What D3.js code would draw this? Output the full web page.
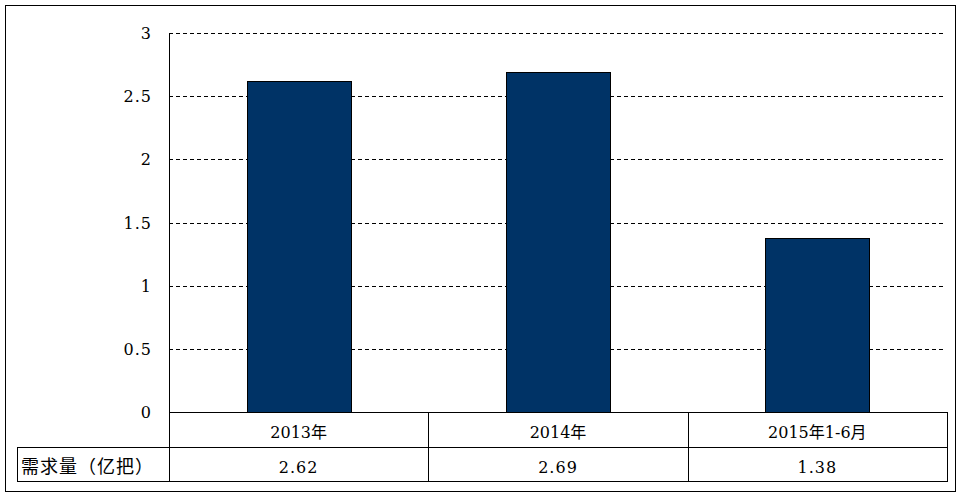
<!DOCTYPE html>
<html>
<head>
<meta charset="utf-8">
<script src="https://cdn.jsdelivr.net/npm/d3@7"></script>
<style>
  body { margin: 0; background: #fff; }
  svg text { font-family: "DejaVu Serif", "Noto Sans CJK SC", serif; font-size: 16px; }
</style>
</head>
<body>
<svg id="chart" width="964" height="498"></svg>
<script>
// data
var categories = ["2013年", "2014年", "2015年1-6月"];
var values = [2.62, 2.69, 1.38];
var valueLabels = ["2.62", "2.69", "1.38"];
var seriesName = "需求量（亿把）";
var yTicks = [0, 0.5, 1, 1.5, 2, 2.5, 3];
var yTickLabels = ["0", "0.5", "1", "1.5", "2", "2.5", "3"];

var svg = d3.select("#chart");
var plotLeft = 169, plotRight = 947, plotTop = 33, plotBottom = 412;
var rowH = 35, labelLeft = 17;

// outer frame
svg.append("rect")
    .attr("x", 5.5).attr("y", 5.5)
    .attr("width", 950).attr("height", 486)
    .attr("fill", "none").attr("stroke", "#000").attr("stroke-width", 1);

var x = d3.scaleBand()
    .domain(categories)
    .range([plotLeft, plotRight])
    .paddingInner(0)
    .paddingOuter(0);

var y = d3.scaleLinear()
    .domain([0, 3])
    .range([plotBottom, plotTop]);

// dashed grid lines
svg.append("g").selectAll("line")
    .data(yTicks.filter(function(d) { return d > 0; }))
    .enter().append("line")
    .attr("x1", plotLeft).attr("x2", plotRight - 1)
    .attr("y1", function(d) { return Math.round(y(d)) + 0.5; })
    .attr("y2", function(d) { return Math.round(y(d)) + 0.5; })
    .attr("stroke", "#000")
    .attr("stroke-dasharray", "4,3");

// bars
var barW = x.bandwidth() * 0.4;
svg.append("g").selectAll("rect")
    .data(values)
    .enter().append("rect")
    .attr("x", function(d, i) { return Math.round(x(categories[i]) + (x.bandwidth() - barW) / 2) + 0.5; })
    .attr("width", Math.round(barW))
    .attr("y", function(d) { return Math.round(y(d)) + 0.5; })
    .attr("height", function(d) { return Math.round(plotBottom - y(d)); })
    .attr("fill", "#003366")
    .attr("stroke", "#000")
    .attr("stroke-width", 1);

// y tick labels
svg.append("g").selectAll("text")
    .data(yTicks)
    .enter().append("text")
    .attr("x", 152)
    .attr("y", function(d) { return y(d) + 6; })
    .attr("text-anchor", "end")
    .attr("fill", "#000")
    .style("letter-spacing", "1px")
    .text(function(d, i) { return yTickLabels[i]; });

// y axis line, running down through the first table row
svg.append("line")
    .attr("x1", plotLeft + 0.5).attr("x2", plotLeft + 0.5)
    .attr("y1", plotTop).attr("y2", plotBottom + rowH * 2)
    .attr("stroke", "#000");

// data table
var t = svg.append("g").attr("fill", "none").attr("stroke", "#000");
t.append("line").attr("x1", plotLeft).attr("x2", plotRight + 0.5)
    .attr("y1", plotBottom + 0.5).attr("y2", plotBottom + 0.5);
t.append("line").attr("x1", labelLeft).attr("x2", plotRight + 0.5)
    .attr("y1", plotBottom + rowH + 0.5).attr("y2", plotBottom + rowH + 0.5);
t.append("line").attr("x1", labelLeft).attr("x2", plotRight + 0.5)
    .attr("y1", plotBottom + rowH * 2 - 0.5).attr("y2", plotBottom + rowH * 2 - 0.5);
t.append("line").attr("x1", labelLeft + 0.5).attr("x2", labelLeft + 0.5)
    .attr("y1", plotBottom + rowH).attr("y2", plotBottom + rowH * 2);
t.selectAll(".col")
    .data(categories)
    .enter().append("line")
    .attr("class", "col")
    .attr("x1", function(d) { return Math.round(x(d) + x.bandwidth()) + 0.5; })
    .attr("x2", function(d) { return Math.round(x(d) + x.bandwidth()) + 0.5; })
    .attr("y1", plotBottom).attr("y2", plotBottom + rowH * 2);

svg.append("g").selectAll("text")
    .data(categories)
    .enter().append("text")
    .attr("x", function(d) { return x(d) + x.bandwidth() / 2; })
    .attr("y", plotBottom + 26)
    .attr("text-anchor", "middle")
    .attr("fill", "#000")
    .text(function(d) { return d; });

svg.append("g").selectAll("text")
    .data(valueLabels)
    .enter().append("text")
    .attr("x", function(d, i) { return x(categories[i]) + x.bandwidth() / 2; })
    .attr("y", plotBottom + rowH + 26)
    .attr("text-anchor", "middle")
    .attr("fill", "#000")
    .style("letter-spacing", "1px")
    .text(function(d) { return d; });

svg.append("text")
    .attr("x", labelLeft + 4)
    .attr("y", plotBottom + rowH + 26)
    .attr("fill", "#000")
    .style("font-size", "18px")
    .style("letter-spacing", "1px")
    .text(seriesName);
</script>
</body>
</html>
